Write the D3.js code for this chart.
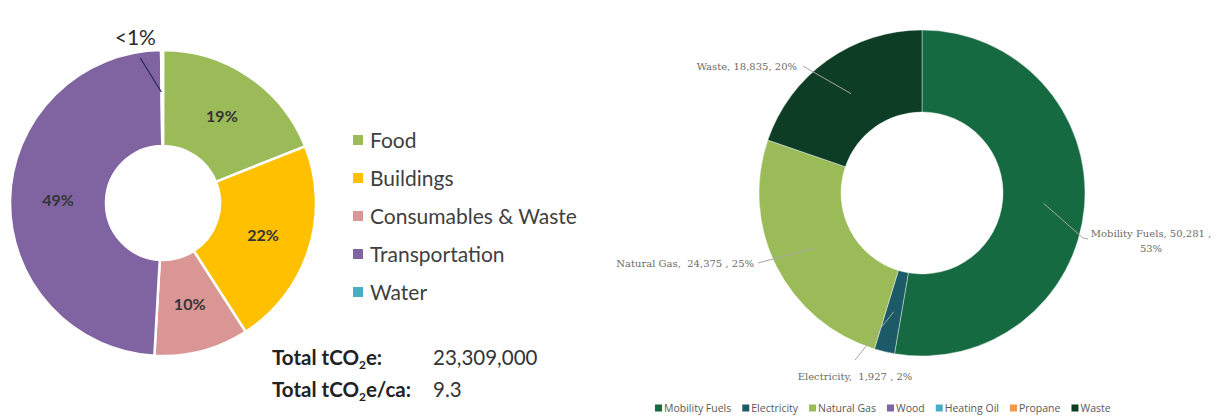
<!DOCTYPE html>
<html>
<head>
<meta charset="utf-8">
<script src="https://cdn.jsdelivr.net/npm/d3@7"></script>
<style>
  body { margin: 0; background: #fff; }
  svg { display: block; }
</style>
</head>
<body>
<svg id="chart" width="1225" height="416"></svg>
<script>
// left chart: community footprint by sector
const sectorNames = ['Food', 'Buildings', 'Consumables & Waste', 'Transportation', 'Water'];
const sectorShares = [19, 22, 10, 49, 0.2];
const sectorLabels = ['19%', '22%', '10%', '49%', '<1%'];
const sectorColors = ['#9bbb59', '#ffc000', '#d99694', '#8064a2', '#4bacc6'];

const totalLabels = ['Total tCO', 'Total tCO'];
const totalSuffix = ['e:', 'e/ca:'];
const totalValues = ['23,309,000', '9.3'];

// right chart: municipal emissions by source
const sourceNames = ['Mobility Fuels', 'Electricity', 'Natural Gas', 'Wood', 'Heating Oil', 'Propane', 'Waste'];
const sourceValues = [50281, 1927, 24375, 0, 0, 0, 18835];
const sourcePct = ['53%', '2%', '25%', '0%', '0%', '0%', '20%'];
const sourceColors = ['#166a42', '#1c5a68', '#9bbb59', '#8064a2', '#4bacc6', '#f79646', '#0d3d25'];

const svg = d3.select('#chart');

/* ---------- left donut ---------- */
const L = { cx: 163, cy: 203, r0: 57, r1: 153 };
const leftG = svg.append('g').attr('transform', `translate(${L.cx},${L.cy})`);

const leftPie = d3.pie().sort(null).value(d => d.v);
const leftArcs = leftPie(sectorNames.map((n, i) => ({ n, v: sectorShares[i], i })));
const leftArc = d3.arc().innerRadius(L.r0).outerRadius(L.r1);
const leftMid = d3.arc().innerRadius(105).outerRadius(105);

leftG.selectAll('path')
    .data(leftArcs)
    .join('path')
    .attr('d', leftArc)
    .attr('fill', d => sectorColors[d.data.i])
    .attr('stroke', '#fff')
    .attr('stroke-width', 2.5);

// labels inside the bigger slices
leftG.selectAll('text.pct')
    .data(leftArcs.filter(d => d.data.v >= 1))
    .join('text')
    .attr('class', 'pct')
    .attr('x', d => leftMid.centroid(d)[0])
    .attr('y', d => leftMid.centroid(d)[1])
    .attr('dy', '0.35em')
    .attr('text-anchor', 'middle')
    .attr('font-family', 'Lato, "Open Sans", sans-serif')
    .attr('font-size', 16)
    .attr('font-weight', 'bold')
    .attr('fill', '#343434')
    .text(d => sectorLabels[d.data.i]);

// tiny Water slice gets a leader and an outside label
const water = leftArcs[4];
const wAng = (water.startAngle + water.endAngle) / 2;
const wIn = d3.pointRadial(wAng, 111);
leftG.append('line')
    .attr('x1', wIn[0] - 1).attr('y1', wIn[1])
    .attr('x2', wIn[0] - 22).attr('y2', wIn[1] - 34)
    .attr('stroke', '#2e2a55').attr('stroke-width', 1.3);
leftG.append('text')
    .attr('x', wIn[0] - 27)
    .attr('y', -L.r1 - 5)
    .attr('text-anchor', 'middle')
    .attr('font-family', 'Lato, "Open Sans", sans-serif')
    .attr('font-size', 21)
    .attr('fill', '#2b2b2b')
    .text(sectorLabels[4]);

// legend
const leftLegend = svg.append('g').attr('transform', 'translate(353,140)');
const leftItems = leftLegend.selectAll('g')
    .data(sectorNames)
    .join('g')
    .attr('transform', (d, i) => `translate(0,${i * 38})`);
leftItems.append('rect')
    .attr('x', 0).attr('y', -5)
    .attr('width', 10).attr('height', 10)
    .attr('fill', (d, i) => sectorColors[i]);
leftItems.append('text')
    .attr('x', 17).attr('dy', '0.36em')
    .attr('font-family', 'Lato, "Open Sans", sans-serif')
    .attr('font-size', 21)
    .attr('fill', '#404040')
    .text(d => d);

// totals
const totals = svg.append('g').attr('transform', 'translate(272,365)');
totalLabels.forEach((lab, i) => {
    const t = totals.append('text')
        .attr('x', 0).attr('y', i * 32)
        .attr('font-family', 'Lato, "Open Sans", sans-serif')
        .attr('font-size', 20.5)
        .attr('font-weight', 'bold')
        .attr('fill', '#222');
    t.append('tspan').text(lab);
    t.append('tspan').attr('font-size', 12).attr('dy', 4).text('2');
    t.append('tspan').attr('dy', -4).text(totalSuffix[i]);
    totals.append('text')
        .attr('x', 161).attr('y', i * 32)
        .attr('font-family', 'Lato, "Open Sans", sans-serif')
        .attr('font-size', 20.5)
        .attr('fill', '#333')
        .text(totalValues[i]);
});

/* ---------- right donut ---------- */
const R = { cx: 922, cy: 193, r0: 81, r1: 163 };
const rightG = svg.append('g').attr('transform', `translate(${R.cx},${R.cy})`);

const rightPie = d3.pie().sort(null).value(d => d.v);
const rightArcs = rightPie(sourceNames.map((n, i) => ({ n, v: sourceValues[i], i })));
const rightArc = d3.arc().innerRadius(R.r0).outerRadius(R.r1);
const rightMid = d3.arc().innerRadius((R.r0 + R.r1) / 2).outerRadius((R.r0 + R.r1) / 2);

rightG.selectAll('path')
    .data(rightArcs.filter(d => d.data.v > 0))
    .join('path')
    .attr('d', rightArc)
    .attr('fill', d => sourceColors[d.data.i])
    .attr('stroke', '#fff')
    .attr('stroke-width', 0.4);

const fmt = d3.format(',');
// leader end points and text placement per source (layout only)
const calloutLayout = {
    0: { end: [161, 45], anchor: 'middle', sep: [', ', ' ,'], lines: 2 },
    1: { end: [-67, 167], anchor: 'middle', sep: [',  ', ' , '], below: true },
    2: { end: [-164, 70], anchor: 'end', sep: [',  ', ' , '], tx: -4 },
    6: { end: [-119, -127], anchor: 'end', sep: [', ', ', '], tx: -6 }
};

rightArcs.filter(d => d.data.v > 0).forEach(d => {
    const i = d.data.i;
    const c = rightMid.centroid(d);
    const lay = calloutLayout[i];
    const e = lay.end;
    let pts = [c, e];
    if (i === 0) pts = [c, e, [e[0] + 5, e[1] + 1]];
    rightG.append('path')
        .attr('d', d3.line()(pts))
        .attr('fill', 'none')
        .attr('stroke', '#a6a6a6')
        .attr('stroke-width', 1);

    const txt = rightG.append('text')
        .attr('font-family', '"DejaVu Serif", "Liberation Serif", serif')
        .attr('font-size', 10)
        .attr('fill', '#6b6b6b')
        .attr('text-anchor', lay.anchor)
        .style('white-space', 'pre');
    const head = sourceNames[i] + lay.sep[0] + fmt(sourceValues[i]) + lay.sep[1];
    if (lay.lines === 2) {
        txt.append('tspan').attr('x', e[0] + 68).attr('y', e[1] - 1).text(head);
        txt.append('tspan').attr('x', e[0] + 68).attr('y', e[1] + 14).text(sourcePct[i]);
    } else if (lay.below) {
        txt.attr('x', e[0]).attr('y', e[1] + 20).text(head + sourcePct[i]);
    } else {
        txt.attr('x', e[0] + lay.tx).attr('y', e[1] + 4).text(head + sourcePct[i]);
    }
});

// bottom legend
const rightLegend = svg.append('g').attr('transform', 'translate(655,408)');
let lx = 0;
sourceNames.forEach((n, i) => {
    const g = rightLegend.append('g').attr('transform', `translate(${lx},0)`);
    g.append('rect')
        .attr('x', 0).attr('y', -3.5)
        .attr('width', 7).attr('height', 7)
        .attr('fill', sourceColors[i]);
    const t = g.append('text')
        .attr('x', 9).attr('dy', '0.35em')
        .attr('font-family', '"Open Sans", sans-serif')
        .attr('font-size', 10.5)
        .attr('fill', '#595959')
        .text(n);
    lx += 9 + t.node().getComputedTextLength() + 11;
});
</script>
</body>
</html>
